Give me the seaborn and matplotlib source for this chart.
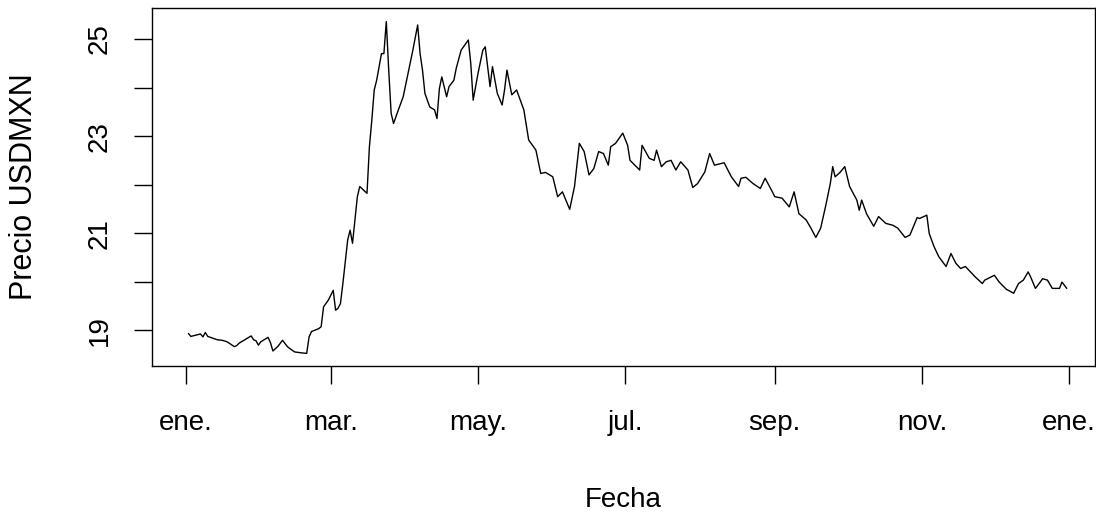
import seaborn as sns
import matplotlib.pyplot as plt
import pandas as pd

# Tipo de cambio USDMXN 2020 (días desde el 1 de enero de 2020, precio)
dias = [1, 2, 6, 7, 8, 9, 13, 15, 17, 20, 21, 22, 24, 27, 28, 29, 30, 31, 34, 35,
        36, 38, 40, 42, 43, 45, 48, 50, 51, 52, 55, 56, 57, 59, 61, 62, 63, 64, 65, 67,
        68, 69, 71, 72, 75, 76, 77, 78, 79, 81, 82, 83, 84, 85, 86, 88, 90, 92, 94, 96,
        97, 98, 99, 101, 103, 104, 105, 106, 108, 109, 111, 112, 114, 117, 118, 119, 121, 123, 124, 126,
        127, 129, 131, 132, 133, 135, 137, 140, 142, 145, 147, 149, 152, 154, 156, 159, 161, 163, 165, 167,
        169, 171, 173, 175, 176, 178, 181, 183, 184, 188, 189, 192, 194, 195, 197, 199, 201, 203, 205, 208,
        210, 212, 215, 217, 219, 223, 226, 229, 230, 232, 235, 238, 240, 243, 244, 247, 250, 252, 254, 257,
        259, 261, 263, 265, 267, 268, 269, 271, 273, 275, 278, 279, 280, 282, 285, 287, 290, 293, 295, 298,
        300, 303, 304, 307, 308, 310, 312, 315, 317, 319, 321, 323, 327, 330, 331, 335, 337, 340, 343, 345,
        347, 349, 350, 352, 354, 355, 357, 359, 362, 363, 365]
precios = [18.93, 18.87, 18.92, 18.86, 18.95, 18.87, 18.80, 18.79, 18.76, 18.66, 18.68, 18.73, 18.79, 18.88, 18.80, 18.78, 18.69, 18.76, 18.85, 18.74,
           18.57, 18.66, 18.79, 18.66, 18.62, 18.55, 18.53, 18.52, 18.86, 18.97, 19.03, 19.07, 19.48, 19.62, 19.82, 19.41, 19.45, 19.55, 19.96, 20.86,
           21.06, 20.79, 21.75, 21.96, 21.82, 22.78, 23.33, 23.95, 24.15, 24.70, 24.70, 25.36, 24.36, 23.47, 23.26, 23.54, 23.81, 24.29, 24.77, 25.29,
           24.70, 24.36, 23.88, 23.60, 23.54, 23.36, 23.98, 24.22, 23.81, 24.02, 24.15, 24.40, 24.77, 24.98, 24.50, 23.74, 24.29, 24.77, 24.84, 24.02,
           24.43, 23.88, 23.64, 23.95, 24.36, 23.85, 23.95, 23.54, 22.92, 22.71, 22.23, 22.25, 22.16, 21.75, 21.85, 21.49, 21.96, 22.85, 22.68, 22.20,
           22.33, 22.68, 22.64, 22.40, 22.78, 22.85, 23.06, 22.81, 22.50, 22.30, 22.81, 22.54, 22.50, 22.71, 22.37, 22.47, 22.50, 22.30, 22.47, 22.30,
           21.94, 22.02, 22.26, 22.64, 22.40, 22.45, 22.16, 21.96, 22.13, 22.15, 22.02, 21.92, 22.13, 21.85, 21.75, 21.72, 21.54, 21.85, 21.40, 21.27,
           21.10, 20.91, 21.10, 21.54, 22.02, 22.37, 22.16, 22.25, 22.37, 21.96, 21.68, 21.47, 21.68, 21.40, 21.14, 21.34, 21.20, 21.16, 21.10, 20.91,
           20.96, 21.32, 21.30, 21.37, 20.99, 20.72, 20.51, 20.31, 20.58, 20.38, 20.27, 20.31, 20.10, 19.96, 20.03, 20.13, 19.99, 19.84, 19.76, 19.96,
           20.03, 20.20, 20.10, 19.86, 19.99, 20.06, 20.03, 19.86, 19.86, 19.99, 19.86]

meses = ['2020-01-01', '2020-03-01', '2020-05-01', '2020-07-01', '2020-09-01', '2020-11-01', '2021-01-01']
etiquetas_meses = ['ene.', 'mar.', 'may.', 'jul.', 'sep.', 'nov.', 'ene.']
niveles = [19, 21, 23, 25]
niveles_menores = [20, 22, 24]

inicio = pd.Timestamp('2020-01-01')
df = pd.DataFrame({'Fecha': inicio + pd.to_timedelta(dias, unit='D'), 'Precio': precios})

sns.set_style('white')
plt.rcParams['font.family'] = ['Liberation Sans', 'DejaVu Sans']

fig = plt.figure(figsize=(10.96, 5.14), dpi=100)
ax = fig.add_axes([152 / 1096, 1 - 366 / 514, 943 / 1096, 358 / 514])

sns.lineplot(data=df, x='Fecha', y='Precio', color='black', linewidth=1.0, ax=ax)

ax.set_xlim(inicio - pd.Timedelta(days=14.1), inicio + pd.Timedelta(days=376.7))
ax.set_ylim(18.26, 25.64)

ax.set_xticks(pd.to_datetime(meses))
ax.set_xticklabels(etiquetas_meses)
ax.set_yticks(niveles)
ax.set_yticklabels([str(n) for n in niveles], rotation=90, va='center')
ax.set_yticks(niveles_menores, minor=True)

ax.tick_params(axis='both', which='both', direction='out', length=13, width=1,
               color='black', labelsize=20, labelcolor='black',
               bottom=True, left=True, top=False, right=False)
ax.tick_params(axis='x', pad=19)
ax.tick_params(axis='y', pad=15)

for s in ax.spines.values():
    s.set_visible(True)
    s.set_color('black')
    s.set_linewidth(1)

ax.set_xlabel('Fecha', fontsize=20, color='black')
ax.set_ylabel('Precio USDMXN', fontsize=22, color='black')
ax.xaxis.set_label_coords(0.5, -0.338)
ax.yaxis.set_label_coords(-0.12, 0.5)

fig.savefig('out.png', dpi=100)
